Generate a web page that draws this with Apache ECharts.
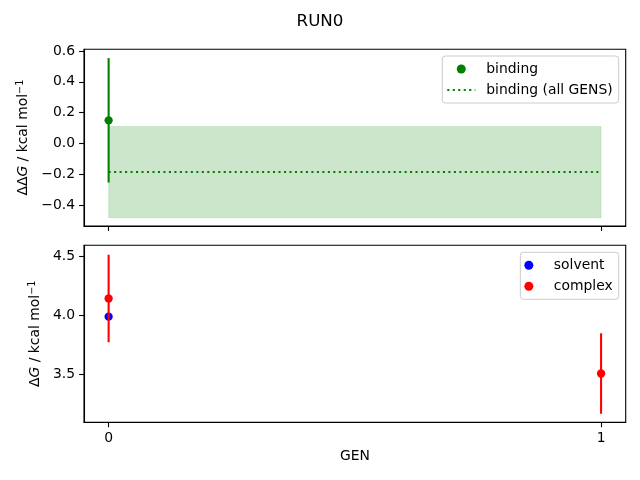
<!DOCTYPE html>
<html><head><meta charset="utf-8">
<script src="https://cdn.jsdelivr.net/npm/echarts@6/dist/echarts.min.js"></script>
<style>html,body{margin:0;padding:0;background:#fff}#c{width:640px;height:480px}</style>
</head><body><div id="c"></div>
<script>
// ---- data ----
const gens = [0, 1];
const bindingGen = [0];
const binding = [0.150];
const bindingErr = [0.404];
const allGensMean = -0.186;
const allGensErr = 0.296;
const solventGen = [0];
const solvent = [3.99];
const complexGen = [0, 1];
const complex = [4.145, 3.507];
const complexErr = [0.372, 0.342];
const topTicks = [-0.4, -0.2, 0.0, 0.2, 0.4, 0.6];
const botTicks = [3.5, 4.0, 4.5];

const FONT = 'DejaVu Sans';
const FS = 13.9;
const fmt = (v, d) => { const s = Math.abs(v).toFixed(d); return (v < -1e-9 ? '\u2212' : '') + s; };

const errData = (xs, ys, es) => xs.map((x, i) => [x, ys[i] - es[i], ys[i] + es[i]]);
const errRender = color => (params, api) => {
  const a = api.coord([api.value(0), api.value(1)]);
  const b = api.coord([api.value(0), api.value(2)]);
  return { type: 'line', shape: { x1: a[0], y1: a[1], x2: b[0], y2: b[1] },
           style: { stroke: color, lineWidth: 2.08 } };
};

const xAxisBase = {
  type: 'value', min: -0.05, max: 1.05,
  axisLine: { show: true, onZero: false, lineStyle: { color: '#000', width: 1.1 } },
  axisTick: { show: true, length: 4.9, lineStyle: { color: '#000', width: 1.1 }, customValues: gens },
  splitLine: { show: false }
};
const yAxisBase = {
  type: 'value',
  axisLine: { show: true, onZero: false, lineStyle: { color: '#000', width: 1.1 } },
  axisTick: { show: true, length: 4.9, lineStyle: { color: '#000', width: 1.1 } },
  splitLine: { show: false },
  nameLocation: 'middle', nameRotate: 90
};
const richName = {
  a: { fontFamily: FONT, fontSize: FS, color: '#000' },
  i: { fontFamily: FONT, fontSize: FS, color: '#000', fontStyle: 'italic' },
  s: { fontFamily: FONT, fontSize: 9.7, color: '#000', verticalAlign: 'top', padding: [0, 0, 6, 0] }
};
const legendBase = {
  orient: 'vertical', right: 21.3, itemWidth: 28, itemHeight: 9, itemGap: 5,
  padding: [5, 6, 5, 4], borderColor: '#cccccc', borderWidth: 1, borderRadius: 3,
  backgroundColor: 'rgba(255,255,255,0.8)',
  textStyle: { fontFamily: FONT, fontSize: FS, color: '#000', padding: [0, 0, 0, 6], lineHeight: 16 }
};

const option = {
  animation: false,
  backgroundColor: '#fff',
  title: { text: 'RUN0', left: 'center', top: 8,
    textStyle: { fontFamily: FONT, fontSize: 16.7, fontWeight: 'normal', color: '#000' } },
  grid: [
    { left: 84, right: 14.3, top: 49.3, height: 176.7, show: true, borderColor: '#000', borderWidth: 1.1, backgroundColor: 'transparent' },
    { left: 84, right: 14.3, top: 245.3, height: 177, show: true, borderColor: '#000', borderWidth: 1.1, backgroundColor: 'transparent' }
  ],
  xAxis: [
    Object.assign({}, xAxisBase, { gridIndex: 0, axisLabel: { show: false } }),
    Object.assign({}, xAxisBase, { gridIndex: 1, name: 'GEN', nameLocation: 'middle', nameGap: 27,
      nameTextStyle: { fontFamily: FONT, fontSize: FS, color: '#000' },
      axisLabel: { show: true, customValues: gens, margin: 9, fontFamily: FONT, fontSize: FS, color: '#000',
        formatter: v => String(Math.round(v)) } })
  ],
  yAxis: [
    Object.assign({}, yAxisBase, { gridIndex: 0, min: -0.536, max: 0.611,
      axisTick: Object.assign({}, yAxisBase.axisTick, { customValues: topTicks }),
      axisLabel: { customValues: topTicks, margin: 9, fontFamily: FONT, fontSize: FS, color: '#000', formatter: v => fmt(v, 1) },
      name: '{a|\u0394\u0394}{i|G}{a| / kcal mol}{s|\u22121}', nameGap: 46,
      nameTextStyle: { rich: richName } }),
    Object.assign({}, yAxisBase, { gridIndex: 1, min: 3.092, max: 4.597,
      axisTick: Object.assign({}, yAxisBase.axisTick, { customValues: botTicks }),
      axisLabel: { customValues: botTicks, margin: 9, fontFamily: FONT, fontSize: FS, color: '#000', formatter: v => fmt(v, 1) },
      name: '{a|\u0394}{i|G}{a| / kcal mol}{s|\u22121}', nameGap: 38,
      nameTextStyle: { rich: richName } })
  ],
  legend: [
    Object.assign({}, legendBase, { top: 56,
      data: ['binding', { name: 'binding (all GENS)', itemStyle: { opacity: 0 } }] }),
    Object.assign({}, legendBase, { top: 252.3,
      data: ['solvent', 'complex'] })
  ],
  series: [
    { type: 'custom', name: 'band', xAxisIndex: 0, yAxisIndex: 0, z: 1, silent: true,
      data: [[gens[0], allGensMean - allGensErr, gens[gens.length - 1], allGensMean + allGensErr]],
      renderItem: (params, api) => {
        const p0 = api.coord([api.value(0), api.value(3)]);
        const p1 = api.coord([api.value(2), api.value(1)]);
        return { type: 'rect', shape: { x: p0[0], y: p0[1], width: p1[0] - p0[0], height: p1[1] - p0[1] },
          style: { fill: 'rgba(0,128,0,0.2)', stroke: 'rgba(0,128,0,0.12)', lineWidth: 1 } };
      } },
    { type: 'line', name: 'binding (all GENS)', xAxisIndex: 0, yAxisIndex: 0, z: 3,
      symbol: 'none', data: [[gens[0], allGensMean], [gens[gens.length - 1], allGensMean]],
      lineStyle: { color: '#008000', width: 2.08, type: [2.08, 3.4] }, itemStyle: { color: '#008000' } },
    { type: 'custom', name: 'bindingErr', xAxisIndex: 0, yAxisIndex: 0, z: 4,
      data: errData(bindingGen, binding, bindingErr), renderItem: errRender('#008000') },
    { type: 'scatter', name: 'binding', xAxisIndex: 0, yAxisIndex: 0, z: 5, symbolSize: 8.3,
      data: bindingGen.map((x, i) => [x, binding[i]]), itemStyle: { color: '#008000', opacity: 1 } },
    { type: 'scatter', name: 'solvent', xAxisIndex: 1, yAxisIndex: 1, z: 3, symbolSize: 8.3,
      data: solventGen.map((x, i) => [x, solvent[i]]), itemStyle: { color: '#0000ff', opacity: 1 } },
    { type: 'scatter', name: 'complex', xAxisIndex: 1, yAxisIndex: 1, z: 5, symbolSize: 8.3,
      data: complexGen.map((x, i) => [x, complex[i]]), itemStyle: { color: '#ff0000', opacity: 1 } },
    { type: 'custom', name: 'complexErr', xAxisIndex: 1, yAxisIndex: 1, z: 4,
      data: errData(complexGen, complex, complexErr), renderItem: errRender('#ff0000') }
  ]
};
const chart = echarts.init(document.getElementById('c'), null, { renderer: 'canvas' });
chart.setOption(option);
</script></body></html>
